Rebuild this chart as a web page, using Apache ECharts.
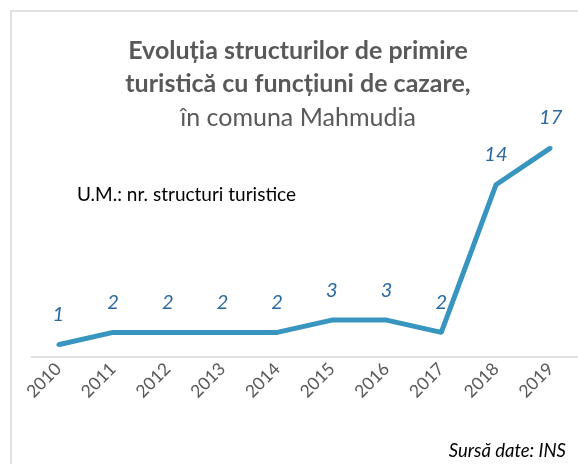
<!DOCTYPE html>
<html>
<head>
<meta charset="utf-8">
<script src="https://cdn.jsdelivr.net/npm/echarts@6/dist/echarts.min.js"></script>
<style>
  html, body { margin: 0; padding: 0; background: #fff; }
  #chart { width: 578px; height: 464px; }
</style>
</head>
<body>
<div id="chart"></div>
<script>
const years = ['2010', '2011', '2012', '2013', '2014', '2015', '2016', '2017', '2018', '2019']
const structuri = [1, 2, 2, 2, 2, 3, 3, 2, 14, 17]

const chart = echarts.init(document.getElementById('chart'))

const option = {
  backgroundColor: '#fff',
  textStyle: { fontFamily: 'Lato, "Open Sans", sans-serif' },
  title: {
    text: '{b|Evoluția structurilor de primire}\n{b|turistică cu funcțiuni de cazare,}\n{n|în comuna Mahmudia}',
    left: 293,
    top: 29,
    textAlign: 'center',
    textStyle: {
      rich: {
        b: { fontSize: 25, fontWeight: 'bold', color: '#595959', lineHeight: 33, fontFamily: 'Lato' },
        n: { fontSize: 25, fontWeight: 'normal', color: '#595959', lineHeight: 35, fontFamily: 'Lato' }
      }
    }
  },
  graphic: [
    {
      type: 'rect',
      shape: { x: 11, y: 11, width: 600, height: 500 },
      style: { fill: 'none', stroke: '#d9d9d9', lineWidth: 1.5 },
      silent: true
    },
    {
      type: 'text',
      left: 77,
      top: 185,
      style: { text: 'U.M.: nr. structuri turistice', fontSize: 19, fill: '#000', fontFamily: 'Lato' }
    },
    {
      type: 'text',
      right: 12,
      top: 442,
      style: { text: 'Sursă date: INS', fontSize: 18.5, fontStyle: 'italic', fill: '#000', fontFamily: 'Lato' }
    }
  ],
  grid: {
    left: 31,
    right: -1,
    top: 111,
    bottom: 107,
    containLabel: false
  },
  xAxis: {
    type: 'category',
    data: years,
    boundaryGap: true,
    axisLine: { show: true, lineStyle: { color: '#d9d9d9', width: 1.5 } },
    axisTick: { show: false },
    axisLabel: {
      rotate: 45,
      margin: 9,
      color: '#595959',
      fontSize: 17.5,
      interval: 0
    }
  },
  yAxis: {
    type: 'value',
    min: 0,
    max: 20,
    show: false,
    splitLine: { show: false }
  },
  series: [
    {
      name: 'Structuri',
      type: 'line',
      data: structuri,
      showSymbol: true,
      symbol: 'circle',
      symbolSize: 4,
      lineStyle: { color: '#3895bf', width: 5 },
      itemStyle: { color: '#3895bf' },
      label: {
        show: true,
        position: 'top',
        distance: 18,
        fontSize: 20,
        fontStyle: 'italic',
        color: '#2b69a3',
        fontFamily: 'Lato'
      },
      labelLayout: { hideOverlap: false }
    }
  ]
}

chart.setOption(option)
</script>
</body>
</html>
